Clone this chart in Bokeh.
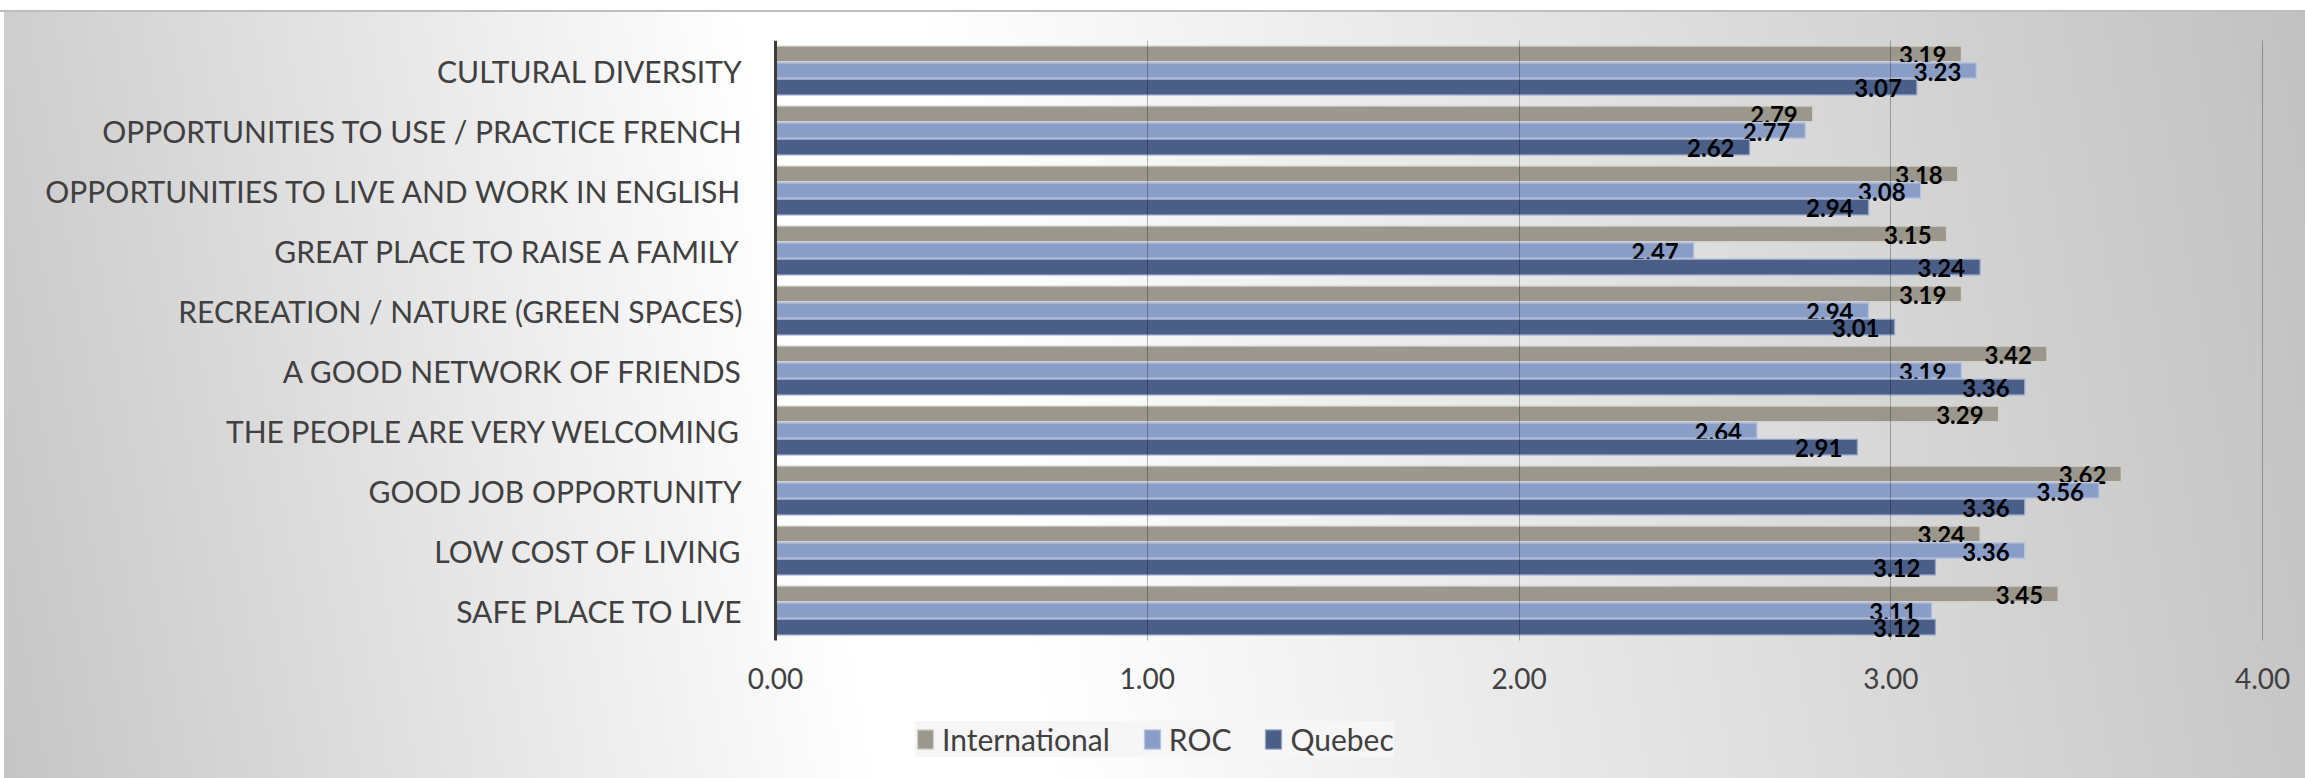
from bokeh.plotting import figure
from bokeh.models import (ColumnDataSource, Range1d, FixedTicker, NumeralTickFormatter,
                          Legend, LegendItem, LinearAxis)
from bokeh.core.properties import value
from bokeh.embed import file_html
from bokeh.resources import INLINE

categories = [
    "CULTURAL DIVERSITY",
    "OPPORTUNITIES TO USE / PRACTICE FRENCH",
    "OPPORTUNITIES TO LIVE AND WORK IN ENGLISH",
    "GREAT PLACE TO RAISE A FAMILY",
    "RECREATION / NATURE (GREEN SPACES)",
    "A GOOD NETWORK OF FRIENDS",
    "THE PEOPLE ARE VERY WELCOMING",
    "GOOD JOB OPPORTUNITY",
    "LOW COST OF LIVING",
    "SAFE PLACE TO LIVE",
]
international = [3.19, 2.79, 3.18, 3.15, 3.19, 3.42, 3.29, 3.62, 3.24, 3.45]
roc = [3.23, 2.77, 3.08, 2.47, 2.94, 3.19, 2.64, 3.56, 3.36, 3.11]
quebec = [3.07, 2.62, 2.94, 3.24, 3.01, 3.36, 2.91, 3.36, 3.12, 3.12]
series_names = ["International", "ROC", "Quebec"]
x_ticks = [0, 1, 2, 3, 4]

FONT = "Lato"
TXT = "#404040"

n = len(categories)
cat_pos = [n - 1 - i + 0.5 for i in range(n)]  # slot centres, first category on top

bg = ("linear-gradient(to bottom, #ffffff 0px, #ffffff 10px, #bdbdbd 10px, #bdbdbd 12px, rgba(255,255,255,0) 12px), "
      "linear-gradient(to right, #ffffff 0px, #ffffff 4px, rgba(255,255,255,0) 4px), "
      "linear-gradient(80deg, #c5c5c5 0%, #ffffff 36%, #ffffff 43%, #c1c1c1 100%)")

p = figure(width=2305, height=778, output_backend="svg", toolbar_location=None,
           y_range=Range1d(-2.3, n), x_range=Range1d(-0.0807, 4.102),
           min_border_left=745, min_border_right=5, min_border_top=40, min_border_bottom=0,
           styles={"background": bg})
p.background_fill_alpha = 0
p.border_fill_alpha = 0
p.outline_line_color = None

fills = ["#9c978c", "#8a9dc7", "#4a5e88"]
edges = ["#d3cfc7", "#b7c4e0", "#94a2c4"]
offsets = [0.278, 0.0, -0.278]
data = [international, roc, quebec]

items = []
for name, vals, fc, ec, off in zip(series_names, data, fills, edges, offsets):
    src = ColumnDataSource(dict(y=[c + off for c in cat_pos], val=vals,
                                lbl=[f"{v:.2f}" for v in vals]))
    r = p.hbar(y="y", right="val", left=0, height=0.258, source=src,
               fill_color=fc, line_color=ec, line_width=1.3)
    items.append(LegendItem(label=name, renderers=[r]))
    p.text(x="val", y="y", text="lbl", source=src,
           x_offset=-15, y_offset=1, text_align="right", text_baseline="middle",
           text_font=value(FONT), text_font_style="bold", text_font_size="24px", text_color="#000000")

# grid
p.ygrid.grid_line_color = None
p.xgrid.ticker = FixedTicker(ticks=x_ticks[1:])
p.xgrid.grid_line_color = "#000000"
p.xgrid.grid_line_alpha = 0.28
p.xgrid.grid_line_width = 1
p.xgrid.cross_bounds = (0, n)
p.xgrid.level = "overlay"

# x axis (fixed at the bottom of the category area)
xa = p.xaxis[0]
xa.fixed_location = 0
xa.ticker = FixedTicker(ticks=x_ticks)
xa.formatter = NumeralTickFormatter(format="0.00")
xa.axis_line_color = None
xa.major_tick_line_color = None
xa.minor_tick_line_color = None
xa.major_tick_in = 0
xa.major_tick_out = 0
xa.major_label_standoff = 27
xa.major_label_text_font = FONT
xa.major_label_text_font_size = "28px"
xa.major_label_text_color = TXT

# y axis: category labels only
ya = p.yaxis[0]
ya.ticker = FixedTicker(ticks=cat_pos)
ya.major_label_overrides = {c: name for c, name in zip(cat_pos, categories)}
ya.axis_line_color = None
ya.major_tick_line_color = None
ya.minor_tick_line_color = None
ya.major_tick_in = 0
ya.major_tick_out = 0
ya.major_label_standoff = 3
ya.major_label_text_font = FONT
ya.major_label_text_font_size = "30px"
ya.major_label_text_color = TXT

# y axis line at x = 0, spanning the category area only
yline = LinearAxis(fixed_location=0, bounds=(0, n), ticker=FixedTicker(ticks=[]),
                   axis_line_color="#3c3c3c", axis_line_width=3,
                   major_tick_line_color=None, minor_tick_line_color=None,
                   major_label_text_alpha=0)
p.add_layout(yline, "left")

# legend (inside the frame, under the tick labels)
lg = Legend(items=items, orientation="horizontal", location=(170, 21))
lg.background_fill_color = "#f6f6f6"
lg.background_fill_alpha = 1
lg.border_line_color = None
lg.padding = 14
lg.margin = 0
lg.spacing = 32
lg.glyph_width = 20
lg.glyph_height = 24
lg.label_standoff = 7
lg.label_text_font = FONT
lg.label_text_font_size = "30px"
lg.label_text_color = TXT
p.add_layout(lg, "center")

open("out.html", "w").write(file_html(p, INLINE))
